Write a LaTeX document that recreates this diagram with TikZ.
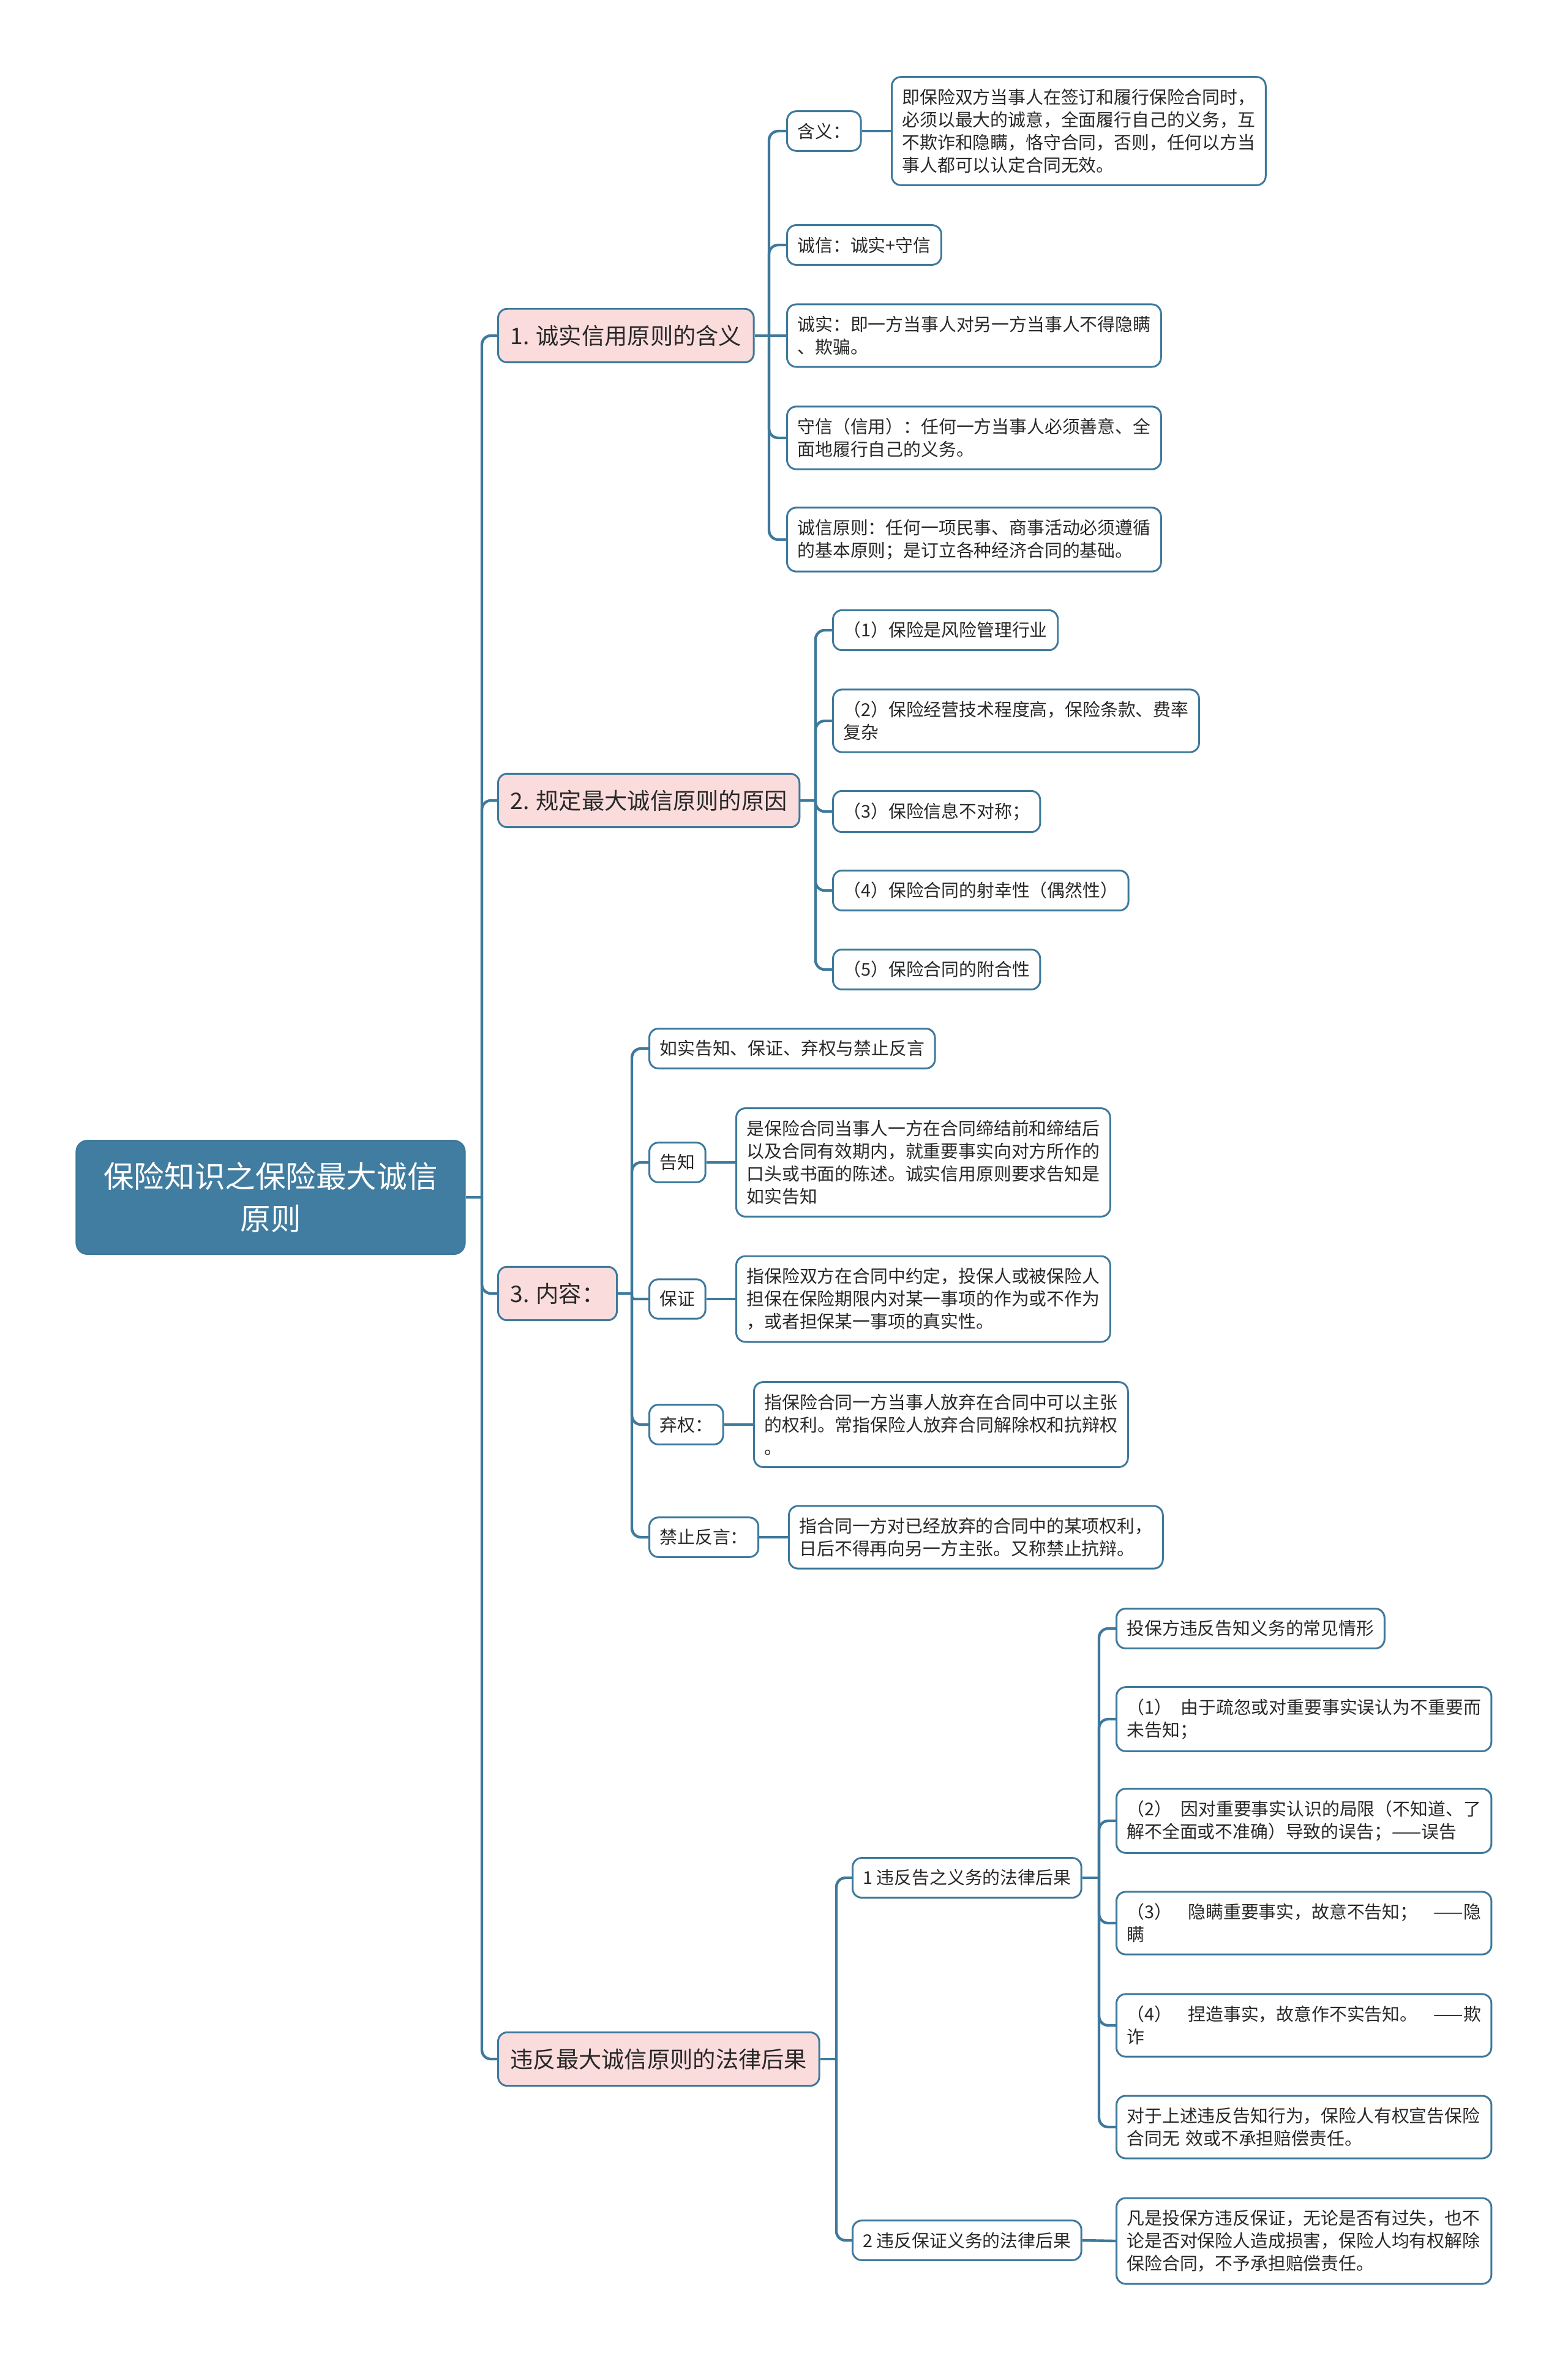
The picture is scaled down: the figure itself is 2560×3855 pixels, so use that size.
\documentclass[tikz,border=0pt]{standalone}
\usepackage{fontspec}
\setmainfont{Noto Sans CJK SC}
\definecolor{mapblue}{RGB}{62,121,156}
\definecolor{rootblue}{RGB}{65,125,160}
\definecolor{topicpink}{RGB}{251,220,220}
\definecolor{inkgray}{RGB}{40,40,40}

\begin{document}
\begin{tikzpicture}[
    x=0.01cm, y=-0.01cm,
    root/.style={draw=mapblue, fill=rootblue, rounded corners=0.18cm, line width=0.8pt, minimum width=6.34cm, minimum height=1.85cm, align=center, text=white, font=\fontsize{14.1}{19.4}\selectfont},
    topic/.style={draw=mapblue, fill=topicpink, rounded corners=0.15cm, line width=0.85pt, anchor=west, inner xsep=0.2cm, inner ysep=7.5pt, text=inkgray, font=\fontsize{10.6}{13}\selectfont},
    leaf/.style={draw=mapblue, fill=white, rounded corners=0.15cm, line width=0.85pt, anchor=west, align=left, inner xsep=0.17cm, inner ysep=5.4pt, text=inkgray, font=\fontsize{8.2}{10.6}\selectfont},
    wide/.style={leaf, text width=5.78cm},
    link/.style={draw=mapblue, line width=1.25pt, rounded corners=0.15cm}
]
\fill[white] (0,0) rectangle (2560,3855);
\useasboundingbox (0,0) rectangle (2560,3855);

\node[root] (root) at (442,1955) {保险知识之保险最大诚信\\原则};

\node[topic] (t1) at (812,548) {1. 诚实信用原则的含义};
\node[topic] (t2) at (812,1307) {2. 规定最大诚信原则的原因};
\node[topic] (t3) at (812,2112) {3. 内容：};
\node[topic] (t4) at (812,3362) {违反最大诚信原则的法律后果};

\node[leaf] (a1) at (1284,214) {含义：};
\node[leaf] (ad) at (1455,214) {即保险双方当事人在签订和履行保险合同时，\\必须以最大的诚意，全面履行自己的义务，互\\不欺诈和隐瞒，恪守合同，否则，任何以方当\\事人都可以认定合同无效。};
\node[leaf] (a2) at (1284,400) {诚信：诚实+守信};
\node[leaf] (a3) at (1284,548) {诚实：即一方当事人对另一方当事人不得隐瞒\\、欺骗。};
\node[leaf] (a4) at (1284,715) {守信（信用）：任何一方当事人必须善意、全\\面地履行自己的义务。};
\node[leaf] (a5) at (1284,881) {诚信原则：任何一项民事、商事活动必须遵循\\的基本原则；是订立各种经济合同的基础。};

\node[leaf] (c1) at (1359,1029) {（1）保险是风险管理行业};
\node[leaf] (c2) at (1359,1177) {（2）保险经营技术程度高，保险条款、费率\\复杂};
\node[leaf] (c3) at (1359,1325) {（3）保险信息不对称；};
\node[leaf] (c4) at (1359,1454) {（4）保险合同的射幸性（偶然性）};
\node[leaf] (c5) at (1359,1583) {（5）保险合同的附合性};

\node[leaf] (d1) at (1059,1712) {如实告知、保证、弃权与禁止反言};
\node[leaf] (d2) at (1059,1898) {告知};
\node[leaf] (d2t) at (1201,1898) {是保险合同当事人一方在合同缔结前和缔结后\\以及合同有效期内，就重要事实向对方所作的\\口头或书面的陈述。诚实信用原则要求告知是\\如实告知};
\node[leaf] (d3) at (1059,2121) {保证};
\node[leaf] (d3t) at (1201,2121) {指保险双方在合同中约定，投保人或被保险人\\担保在保险期限内对某一事项的作为或不作为\\，或者担保某一事项的真实性。};
\node[leaf] (d4) at (1059,2326) {弃权：};
\node[leaf] (d4t) at (1230,2326) {指保险合同一方当事人放弃在合同中可以主张\\的权利。常指保险人放弃合同解除权和抗辩权\\。};
\node[leaf] (d5) at (1059,2510) {禁止反言：};
\node[leaf] (d5t) at (1287,2510) {指合同一方对已经放弃的合同中的某项权利，\\日后不得再向另一方主张。又称禁止抗辩。};

\node[leaf] (e1) at (1391,3066) {1 违反告之义务的法律后果};
\node[leaf] (e2) at (1391,3658) {2 违反保证义务的法律后果};

\node[leaf] (f1) at (1822,2659) {投保方违反告知义务的常见情形};
\node[wide] (f2) at (1822,2807) {（1）\hfill 由于疏忽或对重要事实误认为不重要而\\未告知；};
\node[wide] (f3) at (1822,2973) {（2）\hfill 因对重要事实认识的局限（不知道、了\\解不全面或不准确）导致的误告；——误告};
\node[wide] (f4) at (1822,3140) {（3）\hfill 隐瞒重要事实，故意不告知；\hfill ——隐\\瞒};
\node[wide] (f5) at (1822,3307) {（4）\hfill 捏造事实，故意作不实告知。\hfill ——欺\\诈};
\node[wide] (f6) at (1822,3473) {对于上述违反告知行为，保险人有权宣告保险\\合同无 效或不承担赔偿责任。};
\node[wide] (g1) at (1822,3659) {凡是投保方违反保证，无论是否有过失，也不\\论是否对保险人造成损害，保险人均有权解除\\保险合同，不予承担赔偿责任。};

\coordinate (jr) at (787,1955);
\coordinate (j1) at (1256,548);
\coordinate (j2) at (1332,1307);
\coordinate (j3) at (1032,2112);
\coordinate (j4) at (1366,3362);
\coordinate (je) at (1795,3066);

\draw[link] (root.east) -- (jr);
\foreach \t in {t1,t2,t3,t4} \draw[link] (jr) |- (\t.west);

\draw[link] (t1.east) -- (j1);
\foreach \c in {a1,a2,a4,a5} \draw[link] (j1) |- (\c.west);
\draw[link] (j1) -- (a3.west);
\draw[link] (a1.east) -- (ad.west);

\draw[link] (t2.east) -- (j2);
\foreach \c in {c1,c2,c3,c4,c5} \draw[link] (j2) |- (\c.west);

\draw[link] (t3.east) -- (j3);
\foreach \c in {d1,d2,d4,d5} \draw[link] (j3) |- (\c.west);
\draw[link, rounded corners=0.04cm] (j3) |- (d3.west);
\draw[link] (d2.east) -- (d2t.west);
\draw[link] (d3.east) -- (d3t.west);
\draw[link] (d4.east) -- (d4t.west);
\draw[link] (d5.east) -- (d5t.west);

\draw[link] (t4.east) -- (j4);
\foreach \c in {e1,e2} \draw[link] (j4) |- (\c.west);

\draw[link] (e1.east) -- (je);
\foreach \c in {f1,f2,f3,f4,f5,f6} \draw[link] (je) |- (\c.west);
\draw[link] (e2.east) -- (g1.west);
\end{tikzpicture}
\end{document}
